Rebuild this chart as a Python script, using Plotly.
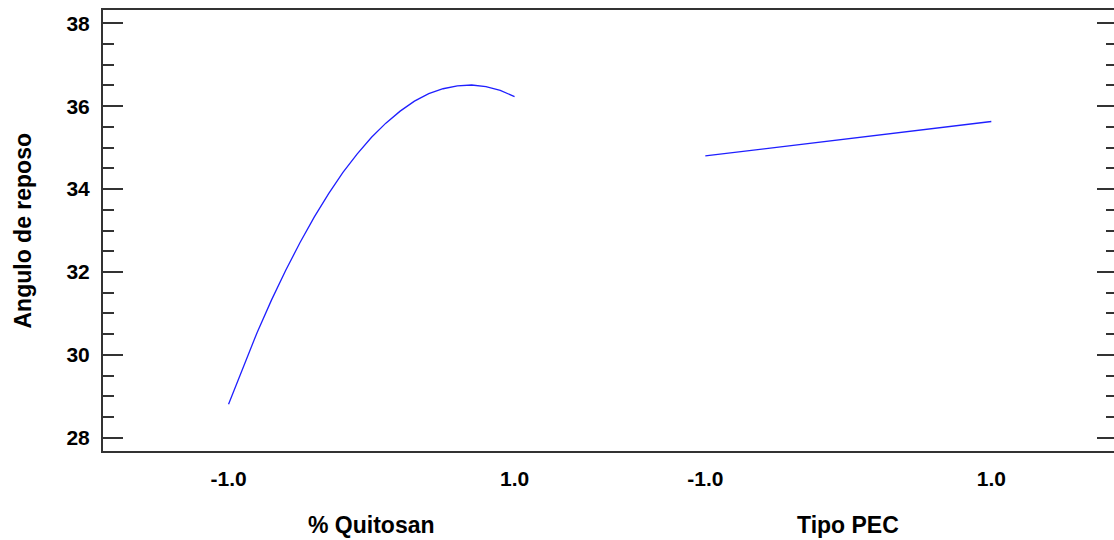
import plotly.graph_objects as go

# Main effects for "Angulo de reposo" (coded factor levels -1 .. 1)
quitosan_x = [-1.0, -0.9, -0.8, -0.7, -0.6, -0.5, -0.4, -0.3, -0.2, -0.1,
              0.0, 0.1, 0.2, 0.3, 0.4, 0.5, 0.6, 0.7, 0.8, 0.9, 1.0]
quitosan_y = [28.81, 29.70, 30.54, 31.32, 32.04, 32.71, 33.33, 33.89, 34.40, 34.85,
              35.25, 35.59, 35.88, 36.12, 36.30, 36.42, 36.49, 36.51, 36.47, 36.38, 36.23]

pec_x = [-1.0, 0.0, 1.0]
pec_y = [34.80, 35.22, 35.63]

factor_names = ["% Quitosan", "Tipo PEC"]
factor_offsets = [0.0, 3.334]          # horizontal placement of each factor panel
level_ticks = [-1.0, 1.0]
level_labels = ["-1.0", "1.0"]

y_range = [27.68, 38.32]
x_range = [-1.878, 5.192]

FONT = "Liberation Sans, Arial, sans-serif"
LINE_BLUE = "#1f1fff"
AXIS_COLOR = "#333333"

fig = go.Figure()

for xs, ys, off in [(quitosan_x, quitosan_y, factor_offsets[0]),
                    (pec_x, pec_y, factor_offsets[1])]:
    fig.add_trace(go.Scatter(
        x=[v + off for v in xs], y=ys, mode="lines",
        line=dict(color=LINE_BLUE, width=1.3),
        showlegend=False, hoverinfo="skip",
    ))

# Invisible trace to carry the right-hand tick axis
fig.add_trace(go.Scatter(x=[x_range[0]], y=[y_range[0]], yaxis="y2",
                         mode="markers", marker=dict(opacity=0),
                         showlegend=False, hoverinfo="skip"))

tick_vals = []
tick_text = []
for off in factor_offsets:
    for t, lab in zip(level_ticks, level_labels):
        tick_vals.append(t + off)
        tick_text.append(lab)

fig.update_layout(
    width=1114, height=540,
    margin=dict(l=103, r=0, t=10, b=89),
    paper_bgcolor="white", plot_bgcolor="white",
    font=dict(family=FONT, color="black", size=21),
    xaxis=dict(
        range=x_range, showgrid=False, zeroline=False,
        tickmode="array", tickvals=tick_vals, ticktext=tick_text,
        ticks="", tickfont=dict(size=21, family=FONT, weight="bold"),
        ticklabelstandoff=8,
        showline=True, linecolor=AXIS_COLOR, linewidth=2, mirror=True,
    ),
    yaxis=dict(
        range=y_range, showgrid=False, zeroline=False,
        tickmode="linear", tick0=28, dtick=2,
        ticks="inside", ticklen=20, tickwidth=1.5, tickcolor=AXIS_COLOR,
        minor=dict(ticks="inside", ticklen=11, tickwidth=1.5,
                   tickcolor=AXIS_COLOR, dtick=0.5, tick0=28),
        tickfont=dict(size=21, family=FONT, weight="bold"),
        ticklabelstandoff=7,
        showline=True, linecolor=AXIS_COLOR, linewidth=2,
    ),
    yaxis2=dict(
        range=y_range, overlaying="y", side="right", showgrid=False,
        zeroline=False, showline=False, showticklabels=False,
        tickmode="linear", tick0=28, dtick=2,
        ticks="inside", ticklen=17, tickwidth=1.5, tickcolor=AXIS_COLOR,
        minor=dict(ticks="inside", ticklen=8, tickwidth=1.5,
                   tickcolor=AXIS_COLOR, dtick=0.5, tick0=28),
    ),
)

# Factor names under each panel
for name, off in zip(factor_names, factor_offsets):
    fig.add_annotation(
        x=off, xref="x", y=-0.167, yref="paper", yanchor="middle",
        text=f"<b>{name}</b>", showarrow=False,
        font=dict(size=23, family=FONT, color="black"),
    )

# Response axis title
fig.add_annotation(
    x=0, xref="paper", xshift=-81, xanchor="center",
    y=0.5, yref="paper", yanchor="middle",
    text="<b>Angulo de reposo</b>", textangle=-90, showarrow=False,
    font=dict(size=23, family=FONT, color="black"),
)

fig.write_html("out.html")
